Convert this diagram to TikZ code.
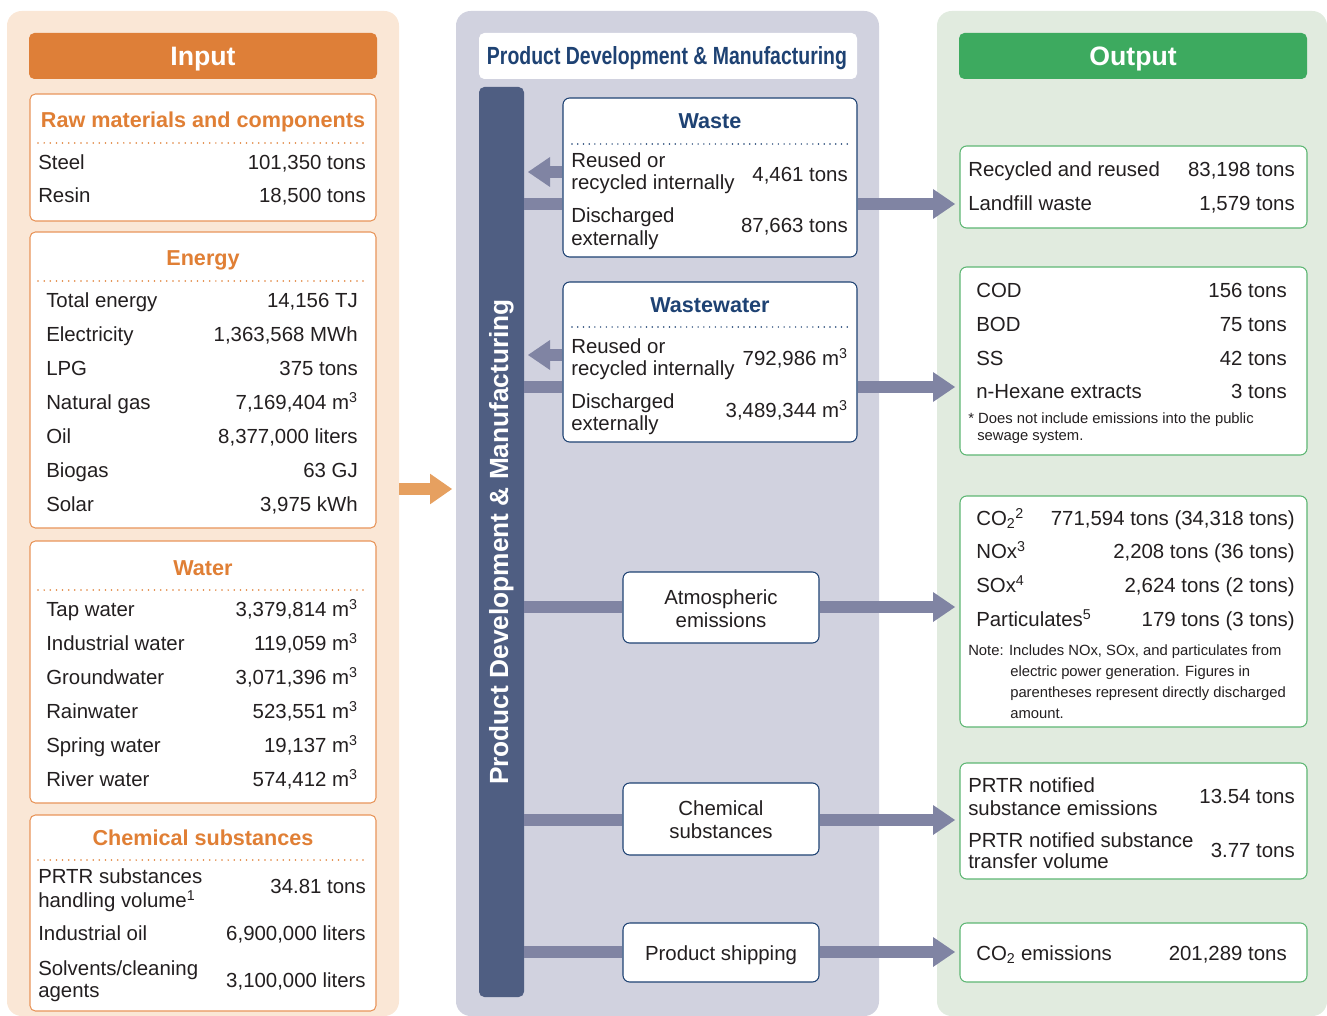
\documentclass[tikz,border=0pt]{standalone}
\usepackage{fontspec}
\setmainfont{Liberation Sans}
\usetikzlibrary{fit,arrows.meta,calc}
\definecolor{inbg}{HTML}{FAE7D6}
\definecolor{inhead}{HTML}{DE7F38}
\definecolor{intitle}{HTML}{E07F35}
\definecolor{inborder}{HTML}{E8955A}
\definecolor{midbg}{HTML}{D1D2DF}
\definecolor{navy}{HTML}{1E4273}
\definecolor{barcol}{HTML}{4F5E82}
\definecolor{arrowcol}{HTML}{8084A3}
\definecolor{outbg}{HTML}{E1EBDF}
\definecolor{outhead}{HTML}{3DAA5F}
\definecolor{outborder}{HTML}{5DB673}
\definecolor{txt}{HTML}{231F20}
\definecolor{orarrow}{HTML}{E6A060}
\tikzset{
 panel/.style={inner sep=0, fill=#1, rounded corners=11pt},
 headbox/.style={inner sep=0, fill=#1, rounded corners=4pt},
 inbox/.style={inner sep=0, draw=inborder, line width=0.8pt, fill=white, rounded corners=4pt},
 midbox/.style={inner sep=0, draw=navy, line width=0.8pt, fill=white, rounded corners=5pt},
 outbox/.style={inner sep=0, draw=outborder, line width=0.8pt, fill=white, rounded corners=5pt},
 body/.style={inner sep=0, text=txt, font=\fontsize{15.3}{17.3}\selectfont},
 lt/.style={body, anchor=base west},
 rt/.style={body, anchor=base east},
 ct/.style={body, anchor=base},
 notetext/.style={inner sep=0, text=txt, font=\fontsize{11.1}{13}\selectfont, anchor=base west},
 sechead/.style={inner sep=0, font=\bfseries\fontsize{16.2}{18}\selectfont, anchor=base},
 bigtitle/.style={inner sep=0, text=white, font=\bfseries\fontsize{20}{24}\selectfont, anchor=base},
 dotline/.style={line width=1.3pt, dash pattern=on 0pt off 4.6pt, line cap=round},
 conn/.style={draw=arrowcol, line width=9pt},
 flow/.style={draw=arrowcol, line width=9pt, -{Triangle[width=22.5pt,length=16.5pt,line width=0pt]}},
 orflow/.style={draw=orarrow, line width=9pt, -{Triangle[width=23pt,length=16.5pt,line width=0pt]}},
}
\newcommand\Lt[4]{\node[lt] (#1) at (#2,#3) {#4};}
\newcommand\Rt[4]{\node[rt] (#1) at (#2,#3) {#4};}
\newcommand\Ct[4]{\node[ct] (#1) at (#2,#3) {#4};}
\newcommand\Nt[4]{\node[notetext] (#1) at (#2,#3) {#4};}
\newcommand\cubic{m\textsuperscript{3}}
\begin{document}
\begin{tikzpicture}[x=0.75pt,y=-0.75pt]
\useasboundingbox (0,0) rectangle (1327,1016);
% ---------------- panels
\node[panel=inbg, fit={(7,11)(399,1016)}] (inpanel) {};
\node[panel=midbg, fit={(456,11)(879,1016)}] (midpanel) {};
\node[panel=outbg, fit={(937,11)(1327,1016)}] (outpanel) {};
% ---------------- input
\node[headbox=inhead, fit={(29,33)(377,79)}] (inhead) {};
\node[bigtitle] (intitle) at (203,66) {Input};

\node[inbox, fit={(30,94)(376,221)}] (raw) {};
\node[sechead, text=intitle] (rawt) at (203,128) {Raw materials and components};
\draw[dotline, intitle] (38,143) -- (367,143);
\Lt{r1}{38}{170}{Steel} \Rt{r1v}{366}{170}{101,350 tons}
\Lt{r2}{38}{203}{Resin} \Rt{r2v}{366}{203}{18,500 tons}

\node[inbox, fit={(30,232)(376,528)}] (energy) {};
\node[sechead, text=intitle] (energyt) at (203,266) {Energy};
\draw[dotline, intitle] (38,281) -- (367,281);
\Lt{e1}{46}{307}{Total energy} \Rt{e1v}{358}{307}{14,156 TJ}
\Lt{e2}{46}{341}{Electricity} \Rt{e2v}{358}{341}{1,363,568 MWh}
\Lt{e3}{46}{375}{LPG} \Rt{e3v}{358}{375}{375 tons}
\Lt{e4}{46}{409}{Natural gas} \Rt{e4v}{358}{409}{7,169,404 \cubic}
\Lt{e5}{46}{443}{Oil} \Rt{e5v}{358}{443}{8,377,000 liters}
\Lt{e6}{46}{477}{Biogas} \Rt{e6v}{358}{477}{63 GJ}
\Lt{e7}{46}{511}{Solar} \Rt{e7v}{358}{511}{3,975 kWh}

\node[inbox, fit={(30,541)(376,803)}] (water) {};
\node[sechead, text=intitle] (watert) at (203,575) {Water};
\draw[dotline, intitle] (38,590) -- (367,590);
\Lt{w1}{46}{616}{Tap water} \Rt{w1v}{358}{616}{3,379,814 \cubic}
\Lt{w2}{46}{650}{Industrial water} \Rt{w2v}{358}{650}{119,059 \cubic}
\Lt{w3}{46}{684}{Groundwater} \Rt{w3v}{358}{684}{3,071,396 \cubic}
\Lt{w4}{46}{718}{Rainwater} \Rt{w4v}{358}{718}{523,551 \cubic}
\Lt{w5}{46}{752}{Spring water} \Rt{w5v}{358}{752}{19,137 \cubic}
\Lt{w6}{46}{786}{River water} \Rt{w6v}{358}{786}{574,412 \cubic}

\node[inbox, fit={(30,815)(376,1011)}] (chemin) {};
\node[sechead, text=intitle] (chemint) at (203,845) {Chemical substances};
\draw[dotline, intitle] (38,860) -- (367,860);
\Lt{c1a}{38}{883}{PRTR substances}
\Lt{c1b}{38}{907}{handling volume\textsuperscript{1}}
\Rt{c1v}{366}{893}{34.81 tons}
\Lt{c2}{38}{940}{Industrial oil} \Rt{c2v}{366}{940}{6,900,000 liters}
\Lt{c3a}{38}{975}{Solvents/cleaning}
\Lt{c3b}{38}{997}{agents}
\Rt{c3v}{366}{987}{3,100,000 liters}

% ---------------- middle
\node[headbox=white, fit={(479,33)(857,79)}] (midhead) {};
\node[inner sep=0, text=navy, anchor=base] (midtitle) at (667,65)
  {\resizebox{270pt}{13.5pt}{\bfseries Product Development \& Manufacturing}};
\node[fill=barcol, rounded corners=4pt, inner sep=0, fit={(479,87)(524,997)}] (bar) {};
\node[rotate=90, anchor=base, inner sep=0, text=white,
  font=\bfseries\fontsize{19.7}{22}\selectfont] (bartext) at (508,542)
  {Product Development \& Manufacturing};

\node[midbox, fit={(563,98)(857,257)}] (waste) {};
\node[sechead, text=navy] (wastet) at (710,129) {Waste};
\draw[dotline, navy, dash pattern=on 0pt off 4.3pt, line width=1.2pt] (572,144) -- (849,144);
\Lt{wa1}{571}{168}{Reused or}
\Lt{wa2}{571}{190}{recycled internally}
\Rt{wa1v}{848}{182}{4,461 tons}
\Lt{wa3}{571}{223}{Discharged}
\Lt{wa4}{571}{246}{externally}
\Rt{wa3v}{848}{233}{87,663 tons}

\node[midbox, fit={(563,282)(857,442)}] (wastewater) {};
\node[sechead, text=navy] (wastewatert) at (710,312) {Wastewater};
\draw[dotline, navy, dash pattern=on 0pt off 4.3pt, line width=1.2pt] (572,327) -- (849,327);
\Lt{ww1}{571}{353}{Reused or}
\Lt{ww2}{571}{375}{recycled internally}
\Rt{ww1v}{848}{365}{792,986 \cubic}
\Lt{ww3}{571}{408}{Discharged}
\Lt{ww4}{571}{430}{externally}
\Rt{ww3v}{848}{417}{3,489,344 \cubic}

\node[midbox, fit={(623,572)(819,643)}] (atm) {};
\Ct{atm1}{721}{604}{Atmospheric}
\Ct{atm2}{721}{627}{emissions}
\node[midbox, fit={(623,783)(819,855)}] (chem) {};
\Ct{chem1}{721}{815}{Chemical}
\Ct{chem2}{721}{838}{substances}
\node[midbox, fit={(623,923)(819,982)}] (ship) {};
\Ct{ship1}{721}{960}{Product shipping}

% ---------------- output
\node[headbox=outhead, fit={(959,33)(1307,79)}] (outhead) {};
\node[bigtitle] (outtitle) at (1133,66) {Output};

\node[outbox, fit={(960,146)(1307,228)}] (o1) {};
\Lt{o1a}{968}{177}{Recycled and reused} \Rt{o1av}{1295}{177}{83,198 tons}
\Lt{o1b}{968}{211}{Landfill waste} \Rt{o1bv}{1295}{211}{1,579 tons}

\node[outbox, fit={(960,267)(1307,455)}] (o2) {};
\Lt{o2a}{976}{297}{COD} \Rt{o2av}{1287}{297}{156 tons}
\Lt{o2b}{976}{331}{BOD} \Rt{o2bv}{1287}{331}{75 tons}
\Lt{o2c}{976}{365}{SS} \Rt{o2cv}{1287}{365}{42 tons}
\Lt{o2d}{976}{398}{n-Hexane extracts} \Rt{o2dv}{1287}{398}{3 tons}
\Nt{o2n1}{968}{423}{* Does not include emissions into the public}
\Nt{o2n2}{977}{440}{sewage system.}

\node[outbox, fit={(960,496)(1307,727)}] (o3) {};
\Lt{o3a}{976}{525}{CO\textsubscript{2}\textsuperscript{2}} \Rt{o3av}{1295}{525}{771,594 tons (34,318 tons)}
\Lt{o3b}{976}{558}{NOx\textsuperscript{3}} \Rt{o3bv}{1295}{558}{2,208 tons (36 tons)}
\Lt{o3c}{976}{592}{SOx\textsuperscript{4}} \Rt{o3cv}{1295}{592}{2,624 tons (2 tons)}
\Lt{o3d}{976}{626}{Particulates\textsuperscript{5}} \Rt{o3dv}{1295}{626}{179 tons (3 tons)}
\Nt{o3n1}{968}{655}{Note: Includes NOx, SOx, and particulates from}
\Nt{o3n2}{1010}{676}{electric power generation. Figures in}
\Nt{o3n3}{1010}{697}{parentheses represent directly discharged}
\Nt{o3n4}{1010}{718}{amount.}

\node[outbox, fit={(960,763)(1307,879)}] (o4) {};
\Lt{o4a}{968}{792}{PRTR notified}
\Lt{o4b}{968}{815}{substance emissions}
\Rt{o4av}{1295}{803}{13.54 tons}
\Lt{o4c}{968}{847}{PRTR notified substance}
\Lt{o4d}{968}{868}{transfer volume}
\Rt{o4cv}{1295}{857}{3.77 tons}

\node[outbox, fit={(960,923)(1307,982)}] (o5) {};
\Lt{o5a}{976}{960}{CO\textsubscript{2} emissions} \Rt{o5av}{1287}{960}{201,289 tons}

% ---------------- connectors
\coordinate (yin) at (0,489);
\coordinate (tin) at (452,489);
\draw[orflow] (inpanel.east |- yin) -- (tin);

\coordinate (yl1) at (0,172);
\coordinate (yl2) at (0,355);
\coordinate (tl1) at (528,172);
\coordinate (tl2) at (528,355);
\draw[flow] (waste.west |- yl1) -- (tl1);
\draw[flow] (wastewater.west |- yl2) -- (tl2);

\coordinate (y1) at (0,204);
\coordinate (y2) at (0,387);
\coordinate (y3) at (0,607);
\coordinate (y4) at (0,820);
\coordinate (y5) at (0,952);
\coordinate (t1) at (955,204);
\coordinate (t2) at (955,387);
\coordinate (t3) at (955,607);
\coordinate (t4) at (955,820);
\coordinate (t5) at (955,952);
\draw[conn] (bar.east |- y1) -- (waste.west |- y1);
\draw[conn] (bar.east |- y2) -- (wastewater.west |- y2);
\draw[conn] (bar.east |- y3) -- (atm.west |- y3);
\draw[conn] (bar.east |- y4) -- (chem.west |- y4);
\draw[conn] (bar.east |- y5) -- (ship.west |- y5);
\draw[flow] (waste.east |- y1) -- (t1);
\draw[flow] (wastewater.east |- y2) -- (t2);
\draw[flow] (atm.east |- y3) -- (t3);
\draw[flow] (chem.east |- y4) -- (t4);
\draw[flow] (ship.east |- y5) -- (t5);
\end{tikzpicture}
\end{document}
